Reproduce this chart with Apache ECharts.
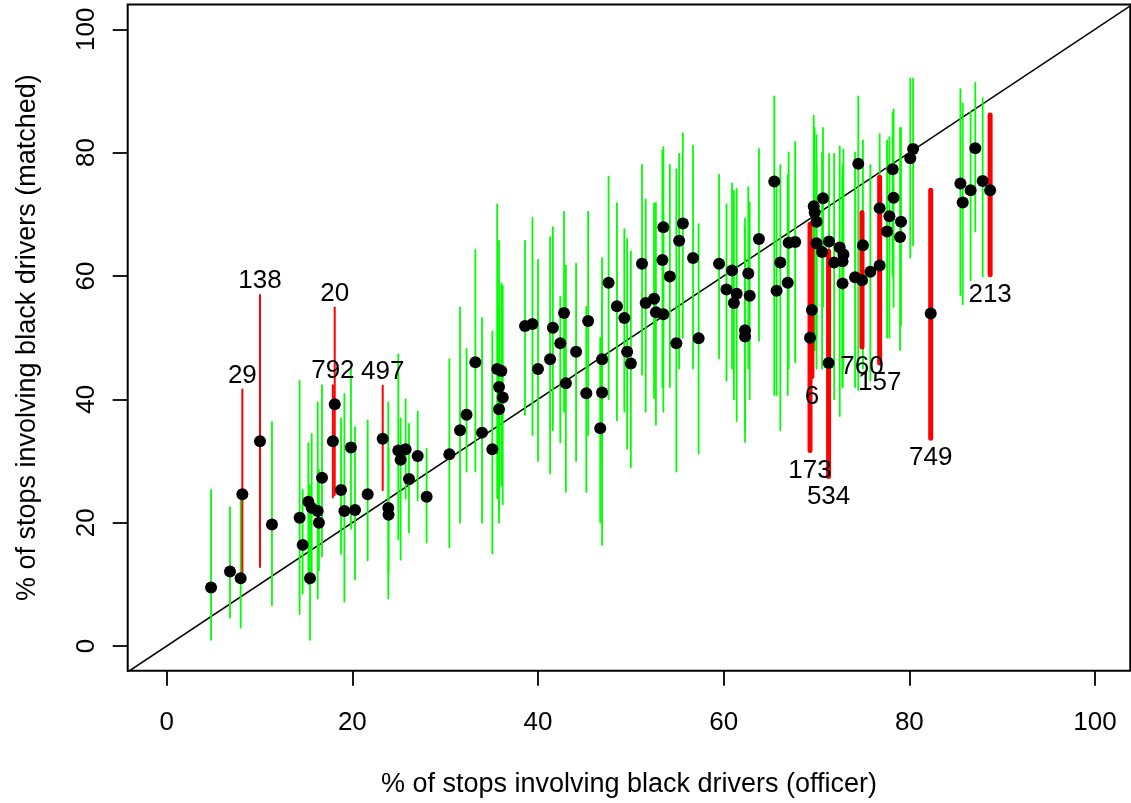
<!DOCTYPE html>
<html><head><meta charset="utf-8">
<script src="https://cdn.jsdelivr.net/npm/echarts@6/dist/echarts.min.js"></script>
<style>html,body{margin:0;padding:0;background:#fff}#c{width:1131px;height:803px}</style>
</head><body><div id="c"></div>
<script>
// ---- data ----
const officerPct = [4.78,6.82,7.97,11.34,14.32,14.65,15.44,15.26,15.62,16.27,16.4,16.73,18.78,19.14,19.85,20.29,21.65,23.87,23.9,24.95,25.2,25.74,26.1,27.04,28.0,
30.45,31.6,32.3,33.25,33.97,35.08,35.6,36.05,35.8,36.2,35.8,38.6,39.4,40.0,41.3,41.6,42.4,42.8,43.0,44.1,45.4,45.2,46.9,46.9,46.7,47.6,48.5,49.3,49.6,50.0,
51.2,51.6,52.5,52.7,53.5,53.4,53.5,54.2,55.2,55.6,54.9,56.7,57.3,59.5,60.9,60.3,61.4,61.1,62.65,62.3,62.3,62.8,
63.8,65.45,66.1,65.7,66.9,67.0,67.7,69.7,70.7,70.0,69.8,70.0,70.6,71.35,71.9,72.5,72.9,72.8,72.8,74.5,74.15,75.0,75.8,76.8,77.85,78.3,78.2,77.6,79.1,79.0,80.1,80.4,
85.5,85.75,86.6,87.1,87.9];
const matchedPct = [9.5,12.1,11.0,19.7,20.8,16.4,11.0,23.4,22.4,21.9,20.0,27.3,25.3,21.9,32.2,22.05,24.6,22.4,21.3,31.7,30.2,31.9,27.1,30.8,24.2,
31.1,35.0,37.5,46.0,34.6,31.9,44.9,44.6,42.0,40.3,38.4,51.9,52.2,44.9,46.5,51.6,49.1,54.0,42.6,47.7,52.7,41.0,46.5,41.1,35.3,58.9,55.1,53.2,47.7,45.8,
62.0,55.6,56.3,54.1,53.8,62.6,67.9,59.9,65.7,68.5,49.1,62.9,49.9,62.0,60.9,57.8,57.1,55.6,60.4,51.2,50.2,56.8,
66.0,75.3,62.2,57.6,58.9,65.4,65.5,71.3,72.6,68.8,70.3,65.3,63.9,65.6,62.2,64.6,63.5,62.4,58.8,78.2,59.8,65.0,60.7,71.0,69.7,72.7,77.3,67.2,68.8,66.3,79.1,80.6,
75.0,71.9,73.9,80.7,75.4];
const ciLow = [1.0,4.6,3.0,6.6,5.2,8.5,1.0,10,12,7.7,12.3,14.5,15.0,7.2,19,10.8,13.9,7.7,12,17.3,14,23.9,18.4,23.6,16.8,
16,20,28.3,28.3,20,15,24,26,22,23,20,37.5,34.2,30,28,35.0,33,38,25,30,34.2,25,30,16.4,20,40,36.6,38,32,29,
44,38,40.2,35.9,38,42,50,42,45,50,28.3,45,31.2,46.6,45,43.0,36.5,40,45,35,33.1,40,
49.5,40.7,35,40.7,40.7,45,46,52,55,50,48,45,45,46,40,37.3,45,42,42,41.5,42,45,43,53,50,55,60,50,52,48,63,65,
56.9,55.4,59.3,67.2,59.9];
const ciHigh = [25.3,22.5,23.7,36.3,43.0,25.3,26.1,32.9,34.4,39.5,28.6,42.3,36.9,40.9,45.0,35.5,36.6,39.5,32,47.3,36.9,40.0,36.0,38.0,32.0,
46.5,54.9,48.2,64.2,53.2,51.0,71.6,58.8,65.7,58.4,55,65.7,69.4,62.6,66.3,67.9,56.6,70.4,61.7,62.0,70.4,55,62.9,56.1,50,76.1,71.8,67.6,66.0,64.0,
78.0,72.4,71.8,71.8,70,80.3,80.9,78.0,79.8,83.1,77.3,81.1,68.4,76.4,75,71.6,74.1,73.8,74.4,68,69.35,71.9,
80.6,89.1,78,75,76.4,80,81.7,86,84,82.8,84,78,80,79.8,79.8,81,80.5,78,76,89.1,80,82,78,83,82.5,87,86.5,82,84,84,92,92,
90.3,88,86.6,91.3,88.8];

// flagged officers, low side (labels above)
const flagLowIds  = ['29','138','20','792','497'];
const flagLowX    = [8.15,10.05,18.1,17.9,23.27];
const flagLowY    = [24.6,33.2,39.2,33.2,33.6];
const flagLowLo   = [10.7,12.8,24.5,24.1,25.3];
const flagLowHi   = [41.6,56.9,54.9,42.3,42.2];
// flagged officers, high side (labels below)
const flagHighIds = ['6','173','534','760','157','749','213'];
const flagHighX   = [69.5,69.3,71.3,74.9,76.8,82.3,88.7];
const flagHighY   = [54.5,50.0,45.9,59.3,61.7,53.9,73.9];
const flagHighLo  = [43.7,31.7,27.5,48.5,45.9,33.7,60.2];
const flagHighHi  = [65.3,68.4,64.0,70.3,76.0,73.9,86.1];

const tickValues = [0,20,40,60,80,100];
const xTitle = '% of stops involving black drivers (officer)';
const yTitle = '% of stops involving black drivers (matched)';

// ---- chart ----
const FONT = '"Liberation Sans", Arial, Helvetica, sans-serif';
const chart = echarts.init(document.getElementById('c'), null, {renderer:'canvas'});

function segRender(color, width){
  return function(params, api){
    const x = api.value(0);
    const a = api.coord([x, api.value(1)]);
    const b = api.coord([x, api.value(2)]);
    return {type:'line', shape:{x1:a[0], y1:a[1], x2:b[0], y2:b[1]},
      style:{stroke:color, lineWidth:width, lineCap:'round'}};
  };
}
function labelRender(ids, dy){
  return function(params, api){
    const p = api.coord([api.value(0), api.value(1)]);
    return {type:'text', x:p[0], y:p[1] + dy,
      style:{text:ids[params.dataIndex], fontSize:26, fontFamily:FONT, fill:'#000',
        align:'center', verticalAlign:'middle'}};
  };
}

const greenData = officerPct.map((x,i)=>[x, ciLow[i], ciHigh[i]]);
const lowSeg = flagLowX.map((x,i)=>[x, flagLowLo[i], flagLowHi[i]]);
const highSeg = flagHighX.map((x,i)=>[x, flagHighLo[i], flagHighHi[i]]);
const points = officerPct.map((x,i)=>[x, matchedPct[i]])
  .concat(flagLowX.map((x,i)=>[x, flagLowY[i]]))
  .concat(flagHighX.map((x,i)=>[x, flagHighY[i]]));

chart.setOption({
  animation:false,
  backgroundColor:'#fff',
  grid:{left:127.7, top:4.6, width:1002.6, height:666.1, show:true, borderColor:'#000', borderWidth:2, backgroundColor:'transparent'},
  xAxis:{type:'value', min:-4.2, max:103.8,
    axisLine:{show:false, onZero:false}, splitLine:{show:false},
    axisTick:{show:true, length:15, customValues:tickValues, lineStyle:{color:'#000', width:1.8}},
    axisLabel:{customValues:tickValues, fontSize:26, fontFamily:FONT, color:'#000', margin:39},
    name:xTitle, nameLocation:'middle', nameGap:100,
    nameTextStyle:{fontSize:27, fontFamily:FONT, color:'#000'}},
  yAxis:{type:'value', min:-4, max:104,
    axisLine:{show:false, onZero:false}, splitLine:{show:false},
    axisTick:{show:true, length:15, customValues:tickValues, lineStyle:{color:'#000', width:1.8}},
    axisLabel:{customValues:tickValues, fontSize:26, fontFamily:FONT, color:'#000', margin:28, rotate:90},
    name:yTitle, nameLocation:'middle', nameGap:87, nameRotate:90,
    nameTextStyle:{fontSize:27, fontFamily:FONT, color:'#000'}},
  series:[
    {type:'line', data:[[-10,-10],[110,110]], symbol:'none', clip:true,
      lineStyle:{color:'#000', width:1.6}, z:1, silent:true},
    {type:'custom', renderItem:segRender('#00ff00', 1.8), data:greenData, encode:{x:0, y:[1,2]}, z:2},
    {type:'custom', renderItem:segRender('#ff0000', 2), data:lowSeg, encode:{x:0, y:[1,2]}, z:3},
    {type:'custom', renderItem:segRender('#ff0000', 5), data:highSeg, encode:{x:0, y:[1,2]}, z:3},
    {type:'scatter', data:points, symbol:'circle', symbolSize:12, itemStyle:{color:'#000', opacity:1}, z:4},
    {type:'custom', renderItem:labelRender(flagLowIds, -14), data:flagLowX.map((x,i)=>[x, flagLowHi[i]]), encode:{x:0,y:1}, z:5},
    {type:'custom', renderItem:labelRender(flagHighIds, 20), data:flagHighX.map((x,i)=>[x, flagHighLo[i]]), encode:{x:0,y:1}, z:5}
  ]
});
</script></body></html>
